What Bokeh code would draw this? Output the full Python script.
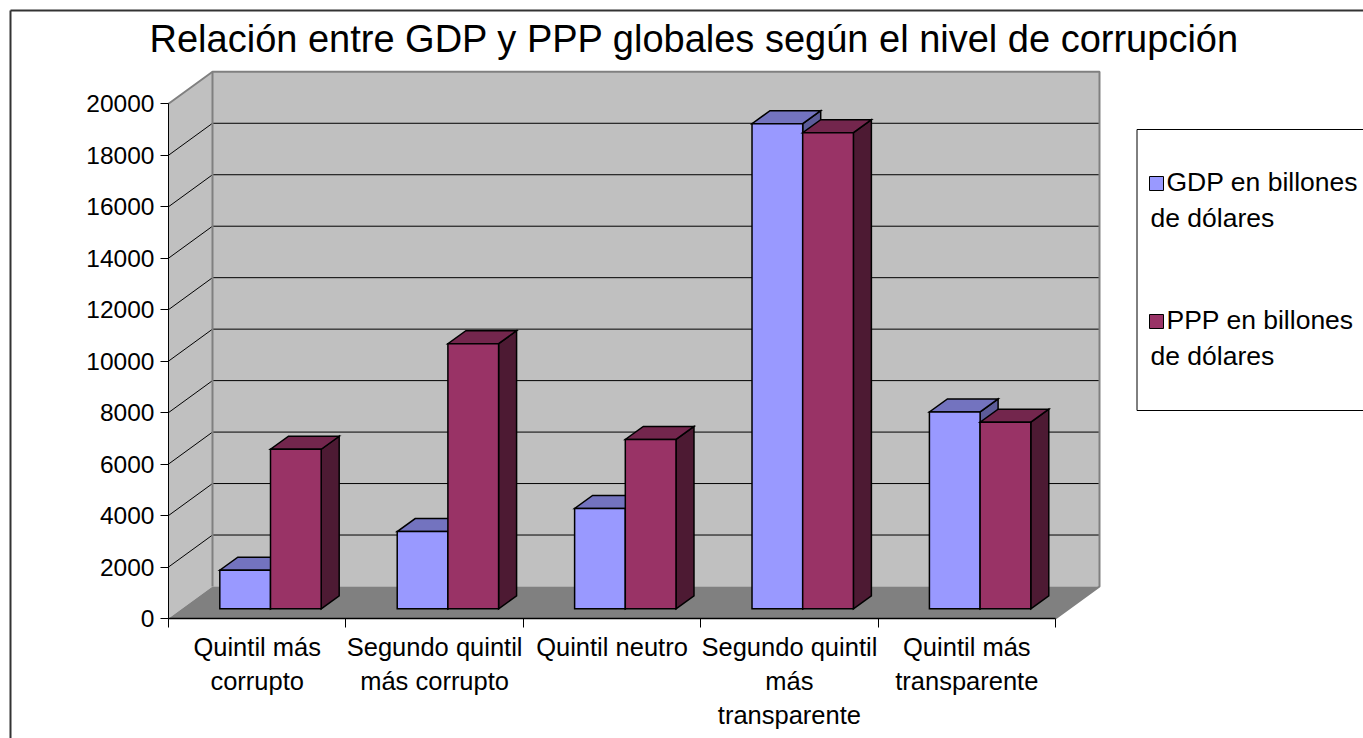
from bokeh.plotting import figure
from bokeh.models import LinearAxis, FixedTicker, ColumnDataSource, Range1d, BasicTickFormatter
from bokeh.core.properties import value
from bokeh.embed import file_html
from bokeh.resources import INLINE

# ---------------- data ----------------
title_text = "Relación entre GDP y PPP globales según el nivel de corrupción"
categories = [
    "Quintil más\ncorrupto",
    "Segundo quintil\nmás corrupto",
    "Quintil neutro",
    "Segundo quintil\nmás\ntransparente",
    "Quintil más\ntransparente",
]
series_names = ["GDP en billones\nde dólares", "PPP en billones\nde dólares"]
gdp = [1500, 3000, 3900, 18850, 7650]
ppp = [6200, 10300, 6580, 18500, 7250]
y_ticks = [0, 2000, 4000, 6000, 8000, 10000, 12000, 14000, 16000, 18000, 20000]

# ---------------- layout (page pixels) ----------------
W, H = 1363, 738
MARGIN = 0
AX_X = 168.0      # page x of category axis origin
AX_Y = 618.0      # page y of value 0
CAT_PX = 177.4    # pixels per category
VAL_PX = 0.025735 # pixels per value unit
FONT = "Liberation Sans"
TXT_SHIFT = 10    # baseline correction for text glyphs


def X(px):
    return (px - AX_X) / CAT_PX


def Y(py):
    return (AX_Y - py) / VAL_PX


def DX(px):
    return px / CAT_PX


def DY(px):
    return px / VAL_PX


p = figure(width=W, height=H,
           x_range=Range1d(X(MARGIN), X(MARGIN + W)),
           y_range=Range1d(Y(MARGIN + H), Y(MARGIN)),
           x_axis_type=None, y_axis_type=None,
           toolbar_location=None, output_backend="svg",
           min_border=0, outline_line_color=None,
           background_fill_color="white", border_fill_color="white")

ncat = len(categories)
ymax = y_ticks[-1]
WDX, WDY = DX(44), DY(32)

# walls and floor
p.patch([0, WDX, WDX, 0], [0, WDY, ymax + WDY, ymax], fill_color="#C0C0C0", line_color=None)
p.quad(left=[WDX], right=[ncat + WDX], bottom=[WDY], top=[ymax + WDY],
       fill_color="#C0C0C0", line_color=None)
p.patch([0, ncat, ncat + WDX, WDX], [0, 0, WDY, WDY], fill_color="#808080", line_color=None)

# gridlines (back wall + side wall)
gx0, gy0, gx1, gy1 = [], [], [], []
for v in y_ticks[1:-1]:
    gx0 += [WDX, 0]
    gy0 += [v + WDY, v]
    gx1 += [ncat + WDX, WDX]
    gy1 += [v + WDY, v + WDY]
p.segment(x0=gx0, y0=gy0, x1=gx1, y1=gy1, line_color="black", line_width=1)

# wall edges
p.multi_line(
    xs=[[0, WDX, ncat + WDX, ncat + WDX, ncat], [WDX, WDX]],
    ys=[[ymax, ymax + WDY, ymax + WDY, WDY, 0], [WDY, ymax + WDY]],
    line_color="#808080", line_width=2)

# bars
BAR_W = 1 / 3.5
GAP_OFF = 0.75 / 3.5
FDX, FDY = DX(13.3), DY(9.7)
BDX, BDY = DX(18), DY(13)
series = [
    (gdp, ("#9999FF", "#7373BF", "#5C5C99")),
    (ppp, ("#993366", "#73264D", "#4D1A33")),
]
for s, (vals, (c_front, c_top, c_side)) in enumerate(series):
    xs, ys, fills = [], [], []
    for i, v in enumerate(vals):
        L = i + GAP_OFF + s * BAR_W + FDX
        R = L + BAR_W
        b = FDY
        t = FDY + v
        xs.append([R, R + BDX, R + BDX, R]); ys.append([b, b + BDY, t + BDY, t]); fills.append(c_side)
        xs.append([L, R, R + BDX, L + BDX]); ys.append([t, t, t + BDY, t + BDY]); fills.append(c_top)
        xs.append([L, R, R, L]); ys.append([b, b, t, t]); fills.append(c_front)
    src = ColumnDataSource(dict(xs=xs, ys=ys, fill=fills))
    p.patches("xs", "ys", source=src, fill_color="fill", line_color="black",
              line_width=1.5, line_join="miter")

# axes
yaxis = LinearAxis(ticker=FixedTicker(ticks=y_ticks), bounds=(0, ymax), fixed_location=0,
                   formatter=BasicTickFormatter(use_scientific=False),
                   axis_line_color="black", axis_line_width=1,
                   major_tick_out=8, major_tick_in=0, minor_tick_out=0, minor_tick_in=0,
                   major_tick_line_color="black",
                   major_label_standoff=6, major_label_text_font_size="24.5px",
                   major_label_text_font=FONT, major_label_text_color="black")
p.add_layout(yaxis, "left")
# category axis: boundary ticks drawn as (unlabelled) minor ticks
xaxis = LinearAxis(ticker=FixedTicker(ticks=[], minor_ticks=list(range(ncat + 1))),
                   bounds=(0, ncat), fixed_location=0,
                   axis_line_color="black", axis_line_width=1.5,
                   major_tick_out=0, major_tick_in=0, minor_tick_out=9, minor_tick_in=0,
                   minor_tick_line_color="black", minor_tick_line_width=1)
p.add_layout(xaxis, "below")

# category labels
lx, ly, lt = [], [], []
for i, lab in enumerate(categories):
    for k, line in enumerate(lab.split("\n")):
        lx.append(i + 0.5)
        ly.append(Y(657 - TXT_SHIFT - 1 + 34 * k))
        lt.append(line)
p.text(x=lx, y=ly, text=lt, text_align="center", text_baseline="alphabetic",
       text_font=value(FONT), text_font_size="25.5px", text_color="black")

# title
p.text(x=[X(694)], y=[Y(47.5 - TXT_SHIFT + 1)], text=[title_text], text_align="center",
       text_baseline="alphabetic",
       text_font=value(FONT), text_font_size="38px", text_color="black")

# legend
p.quad(left=[X(1136.5)], right=[X(1420)], top=[Y(129)], bottom=[Y(410)],
       fill_color="white", line_color="black", line_width=1)
leg_colors = ["#9999FF", "#993366"]
leg_y = [183, 321]
for name, col, cy in zip(series_names, leg_colors, leg_y):
    p.scatter(x=[X(1156)], y=[Y(cy)], marker="square", size=14,
              fill_color=col, line_color="black", line_width=1)
    l1, l2 = name.split("\n")
    p.text(x=[X(1166), X(1150)], y=[Y(cy + 7 - TXT_SHIFT + 1), Y(cy + 43 - TXT_SHIFT + 1)],
           text=[l1, l2], text_align="left", text_baseline="alphabetic",
           text_font=value(FONT), text_font_size="26.5px", text_color="black")

# outer chart border
p.multi_line(xs=[[X(10), X(1420)], [X(10), X(10)]], ys=[[Y(10), Y(10)], [Y(10), Y(800)]],
             line_color="#333333", line_width=2)

open("out.html", "w").write(file_html(p, INLINE))
